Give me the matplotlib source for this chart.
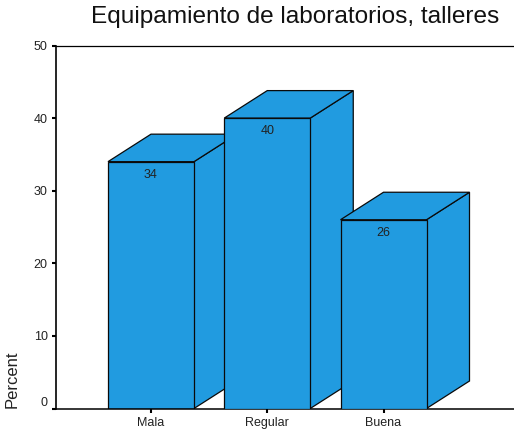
import matplotlib
matplotlib.use('Agg')
import matplotlib.pyplot as plt
from matplotlib.patches import Polygon

categories = ['Mala', 'Regular', 'Buena']
percent = [34, 40, 26]
yticks = [0, 10, 20, 30, 40, 50]

plt.rcParams['font.family'] = ['Liberation Sans', 'DejaVu Sans']
W, H = 514, 434
color = '#219be0'
edge = '#0a0a0a'
txt = '#222222'

fig = plt.figure(figsize=(W / 100, H / 100), dpi=100)
# axes box in pixels, the frame runs off the right edge
left, right, top, bottom = 56, 514, 45.5, 408.5
step = 116.25
ax = fig.add_axes([left / W, 1 - bottom / H, (right - left) / W, (bottom - top) / H])
ax.set_ylim(0, 50)
ax.set_xlim(-(151 - left) / step, -(151 - left) / step + (right - left) / step)

width = 86 / step
dx = 43 / step         # depth of the boxes, x units
dy = 27.5 * 50 / 363   # depth of the boxes, y units

for i, v in enumerate(percent):
    x0 = i - width / 2
    x1 = i + width / 2
    side = Polygon([(x1, 0), (x1 + dx, dy), (x1 + dx, v + dy), (x1, v)], fc=color, ec=edge, lw=0.9, zorder=2 + i)
    topf = Polygon([(x0, v), (x0 + dx, v + dy), (x1 + dx, v + dy), (x1, v)], fc=color, ec=edge, lw=0.9, zorder=2 + i)
    front = Polygon([(x0, 0), (x0, v), (x1, v), (x1, 0)], fc=color, ec=edge, lw=0.9, zorder=2 + i)
    ax.add_patch(side)
    ax.add_patch(topf)
    ax.add_patch(front)
    ax.annotate(str(v), (i, v), xytext=(0, -13), textcoords='offset pixels', ha='center', va='center', fontsize=9, color=txt, zorder=10)

ax.set_xticks(range(len(categories)))
ax.set_xticklabels(categories, fontsize=9, color=txt)
ax.set_yticks(yticks)
ax.set_yticklabels(yticks, fontsize=9, color=txt)
ax.tick_params(axis='both', length=3, width=1.5, pad=3)
ax.get_yticklabels()[0].set_verticalalignment('bottom')

ax.spines['right'].set_visible(False)
ax.spines['left'].set_linewidth(1.2)
ax.spines['bottom'].set_linewidth(1.1)
ax.spines['top'].set_linewidth(0.9)

fig.text(295 / W, 1 - 17 / H, 'Equipamiento de laboratorios, talleres', ha='center', va='center', fontsize=17.6, color='#111111')
fig.text(12.5 / W, 1 - 379 / H, 'Percent', rotation=90, ha='center', va='center', fontsize=12, color=txt)

fig.savefig('out.png', dpi=100)
